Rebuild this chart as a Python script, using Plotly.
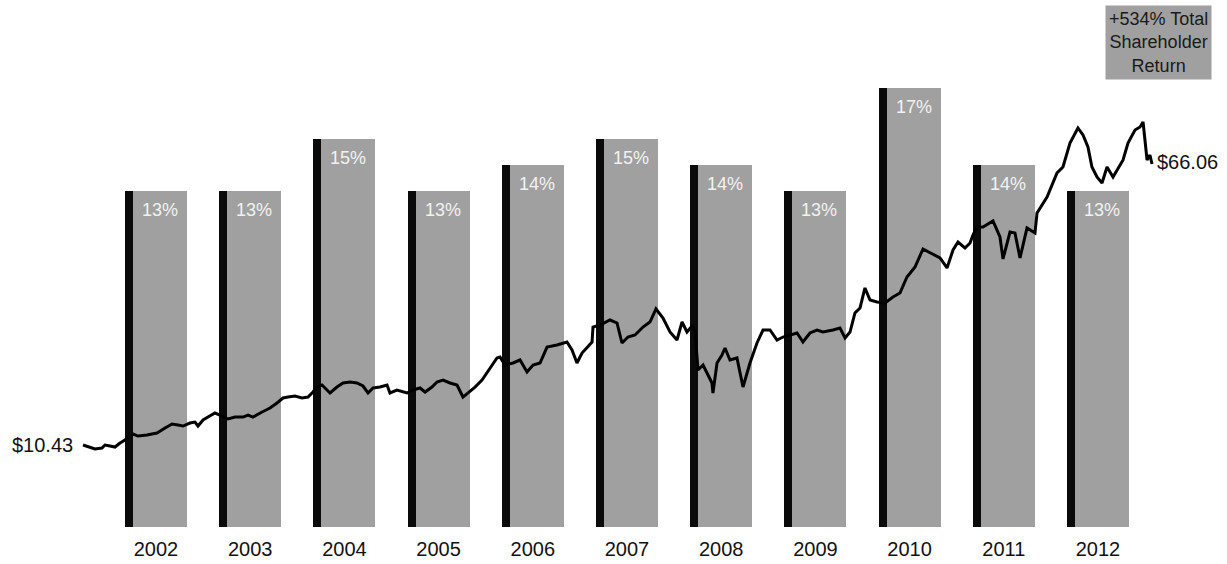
import plotly.graph_objects as go

# Annual return bars
years = [2002, 2003, 2004, 2005, 2006, 2007, 2008, 2009, 2010, 2011, 2012]
returns = [13, 13, 15, 13, 14, 15, 14, 13, 17, 14, 13]

# Share price history (time in decimal years, price in $)
t_years = [
    2002.000, 2002.072, 2002.123, 2002.195, 2002.226, 2002.278, 2002.329, 2002.381,
    2002.432, 2002.514, 2002.566, 2002.658, 2002.761, 2002.844, 2002.916, 2002.977,
    2003.029, 2003.101, 2003.152, 2003.183, 2003.235, 2003.286, 2003.358, 2003.409,
    2003.492, 2003.564, 2003.646, 2003.698, 2003.749, 2003.842, 2003.924, 2003.996,
    2004.058, 2004.109, 2004.181, 2004.253, 2004.315, 2004.366, 2004.407, 2004.459,
    2004.541, 2004.613, 2004.675, 2004.747, 2004.819, 2004.881, 2004.932, 2004.984,
    2005.056, 2005.128, 2005.158, 2005.230, 2005.333, 2005.395, 2005.467, 2005.519,
    2005.590, 2005.642, 2005.704, 2005.776, 2005.848, 2005.909, 2005.961, 2006.033,
    2006.105, 2006.156, 2006.208, 2006.259, 2006.290, 2006.342, 2006.424, 2006.496,
    2006.568, 2006.630, 2006.702, 2006.774, 2006.877, 2006.979, 2007.031, 2007.082,
    2007.134, 2007.185, 2007.237, 2007.247, 2007.319, 2007.422, 2007.494, 2007.545,
    2007.607, 2007.679, 2007.761, 2007.833, 2007.895, 2007.967, 2008.039, 2008.111,
    2008.163, 2008.214, 2008.266, 2008.296, 2008.327, 2008.379, 2008.420, 2008.471,
    2008.481, 2008.523, 2008.574, 2008.605, 2008.656, 2008.728, 2008.790, 2008.862,
    2008.934, 2008.996, 2009.068, 2009.140, 2009.202, 2009.274, 2009.346, 2009.407,
    2009.479, 2009.551, 2009.613, 2009.716, 2009.788, 2009.840, 2009.891, 2009.942,
    2009.994, 2010.045, 2010.097, 2010.169, 2010.251, 2010.333, 2010.405, 2010.477,
    2010.560, 2010.642, 2010.714, 2010.817, 2010.889, 2010.951, 2011.002, 2011.074,
    2011.126, 2011.156, 2011.198, 2011.259, 2011.362, 2011.434, 2011.465, 2011.537,
    2011.588, 2011.640, 2011.712, 2011.794, 2011.815, 2011.918, 2012.021, 2012.082,
    2012.154, 2012.236, 2012.288, 2012.339, 2012.380, 2012.432, 2012.484, 2012.535,
    2012.597, 2012.638, 2012.700, 2012.751, 2012.823, 2012.875, 2012.906, 2012.947,
    2012.977, 2012.998,
]
price = [
    10.43, 10.03, 9.64, 9.84, 10.43, 10.23, 10.03, 10.83,
    11.42, 12.61, 12.21, 12.41, 12.81, 13.80, 14.59, 14.39,
    14.19, 14.79, 14.98, 14.19, 15.38, 15.97, 16.77, 16.37,
    15.58, 15.97, 15.97, 16.37, 15.97, 16.97, 17.76, 18.75,
    19.74, 19.93, 20.13, 19.74, 19.93, 20.92, 21.91, 22.31,
    20.73, 21.91, 22.71, 22.90, 22.71, 22.11, 20.73, 21.72,
    21.91, 22.31, 20.73, 21.32, 20.73, 21.32, 21.72, 20.92,
    21.91, 22.90, 23.30, 22.71, 22.31, 19.93, 20.73, 21.91,
    23.30, 24.69, 26.27, 27.66, 27.85, 26.27, 26.67, 27.26,
    24.88, 26.27, 26.67, 29.83, 30.23, 30.82, 29.24, 26.67,
    28.65, 29.64, 30.82, 33.79, 34.19, 35.18, 34.59, 30.63,
    31.81, 32.21, 33.79, 34.78, 37.36, 35.58, 32.80, 31.22,
    34.78, 32.80, 33.99, 33.20, 25.28, 26.27, 24.69, 22.71,
    20.73, 26.67, 28.25, 29.64, 27.26, 27.66, 21.91, 26.67,
    30.63, 33.20, 33.20, 31.22, 31.81, 32.21, 32.61, 30.82,
    32.61, 33.20, 32.80, 33.20, 33.60, 31.62, 32.80, 36.57,
    37.56, 41.52, 39.14, 38.74, 38.55, 39.73, 40.53, 43.69,
    45.67, 49.24, 48.45, 47.46, 45.48, 49.04, 50.62, 49.44,
    50.43, 52.01, 53.59, 53.59, 54.78, 51.61, 47.26, 52.60,
    52.41, 47.46, 53.40, 52.41, 56.37, 59.53, 64.29, 65.47,
    70.23, 73.20, 71.81, 69.43, 65.47, 63.49, 62.31, 65.47,
    63.49, 64.88, 66.86, 70.23, 72.80, 73.39, 74.38, 66.86,
    67.85, 66.06,
]

start_label = "$10.43"
end_label = "$66.06"
tsr_label = "+534% Total<br>Shareholder<br>Return"

# ---- layout geometry ----
W, H = 1227, 564
BOTTOM = 37
PLOT_H = H - BOTTOM

BAR_STEP = 94.2          # px between bar centres
BAR_CENTER0 = 156        # px of first bar centre
BAR_W = 62 / BAR_STEP    # bar width in axis units
STRIPE_W = 8 / BAR_STEP  # dark edge stripe
PX_PER_PCT = 25.85

LINE_X0 = 83             # px where the price line begins
LINE_PX_PER_YEAR = 97.2
PRICE_ZERO_PX = 497.7    # px (from top) of $0
PX_PER_DOLLAR = 5.051

GRAY = "#a0a0a0"
FONT = "Liberation Sans, Arial, sans-serif"

x_range = [years[0] - BAR_CENTER0 / BAR_STEP, years[0] + (W - BAR_CENTER0) / BAR_STEP]
y_range = [0, PLOT_H / PX_PER_PCT]
x2_range = [t_years[0] - LINE_X0 / LINE_PX_PER_YEAR,
            t_years[0] + (W - LINE_X0) / LINE_PX_PER_YEAR]
y2_range = [(PRICE_ZERO_PX - PLOT_H) / PX_PER_DOLLAR, PRICE_ZERO_PX / PX_PER_DOLLAR]

fig = go.Figure()

# gray return bars
fig.add_trace(go.Bar(
    x=years, y=returns, width=BAR_W, offset=-BAR_W / 2,
    marker=dict(color=GRAY, line=dict(width=0)),
    hoverinfo="skip", showlegend=False,
))
# dark left edge of each bar
fig.add_trace(go.Bar(
    x=years, y=returns, width=STRIPE_W, offset=-BAR_W / 2,
    marker=dict(color="#0a0a0a", line=dict(width=0)),
    hoverinfo="skip", showlegend=False,
))

# share price line
fig.add_trace(go.Scatter(
    x=t_years, y=price, xaxis="x2", yaxis="y2", mode="lines",
    line=dict(color="#000000", width=3),
    hoverinfo="skip", showlegend=False,
))

annotations = []
for yr, r in zip(years, returns):
    annotations.append(dict(
        x=yr + (STRIPE_W / 2), y=r, xref="x", yref="y",
        text=f"{r}%", showarrow=False, yanchor="top", xanchor="center",
        yshift=-7, font=dict(family=FONT, size=18, color="#f2f2f2"),
    ))

annotations.append(dict(
    x=t_years[0], y=price[0], xref="x2", yref="y2", text=start_label,
    showarrow=False, xanchor="right", yanchor="middle", xshift=-8,
    font=dict(family=FONT, size=20, color="#111111"),
))
annotations.append(dict(
    x=t_years[-1], y=price[-1], xref="x2", yref="y2", text=end_label,
    showarrow=False, xanchor="left", yanchor="middle", xshift=3, yshift=2,
    font=dict(family=FONT, size=20, color="#111111"),
))
annotations.append(dict(
    x=1158 / W, y=1 - 42 / PLOT_H, xref="paper", yref="paper", text=tsr_label,
    showarrow=False, xanchor="center", yanchor="middle", align="center",
    bgcolor=GRAY, borderpad=3,
    font=dict(family=FONT, size=18, color="#1a1a1a"),
))

fig.update_layout(
    width=W, height=H, autosize=False,
    margin=dict(l=0, r=0, t=0, b=BOTTOM, pad=0),
    paper_bgcolor="white", plot_bgcolor="white",
    barmode="overlay", bargap=0,
    xaxis=dict(
        range=x_range, tickmode="array", tickvals=years,
        ticktext=[str(y) for y in years], showgrid=False, zeroline=False,
        showline=False, ticks="", ticklabelstandoff=8,
        tickfont=dict(family=FONT, size=20, color="#111111"), fixedrange=True,
    ),
    yaxis=dict(range=y_range, visible=False, showgrid=False, zeroline=False, fixedrange=True),
    xaxis2=dict(range=x2_range, overlaying="x", visible=False, showgrid=False,
                zeroline=False, fixedrange=True),
    yaxis2=dict(range=y2_range, overlaying="y", visible=False, showgrid=False,
                zeroline=False, fixedrange=True),
    annotations=annotations,
)

fig.write_html("out.html")
